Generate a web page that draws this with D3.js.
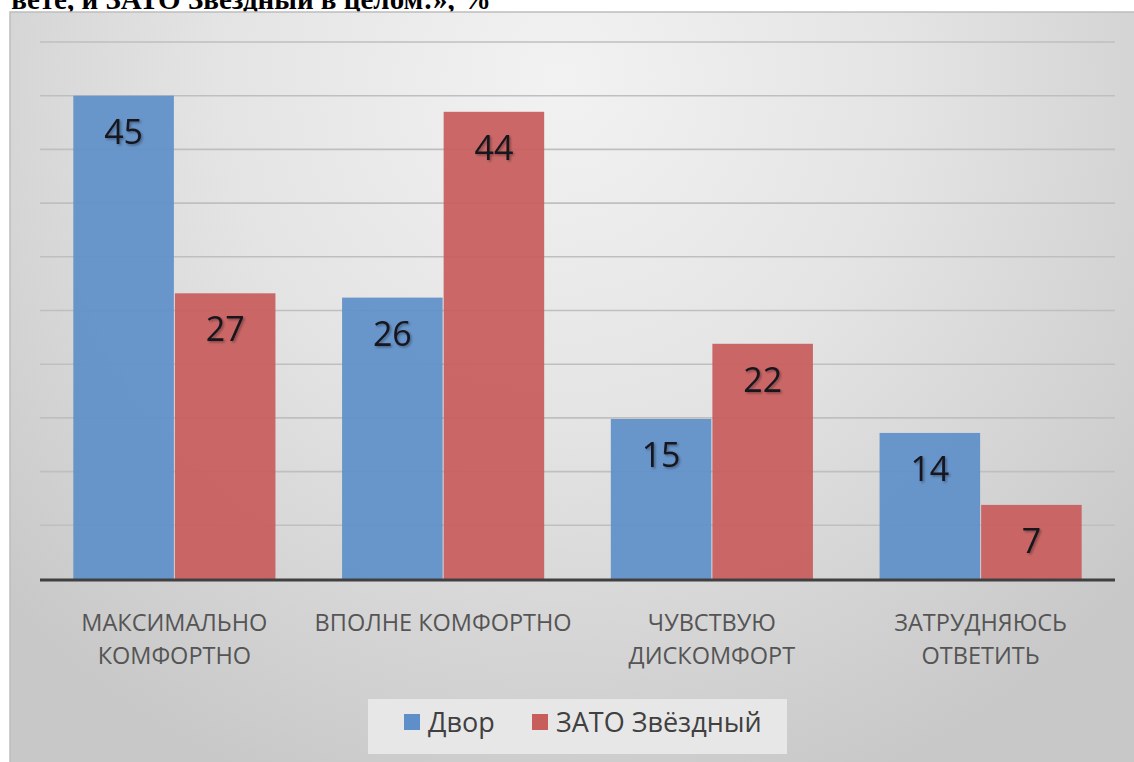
<!DOCTYPE html>
<html><head><meta charset="utf-8">
<script src="https://cdn.jsdelivr.net/npm/d3@7"></script>
<style>html,body{margin:0;padding:0;background:#fff;overflow:hidden}</style>
</head><body>
<svg id="c" width="1134" height="762"></svg>
<script>
const categories = [["МАКСИМАЛЬНО","КОМФОРТНО"],["ВПОЛНЕ КОМФОРТНО"],["ЧУВСТВУЮ","ДИСКОМФОРТ"],["ЗАТРУДНЯЮСЬ","ОТВЕТИТЬ"]];
const seriesNames = ["Двор","ЗАТО Звёздный"];
const dvor = [45.0, 26.2, 14.9, 13.6];
const zato = [26.6, 43.5, 21.9, 6.9];
const yTicks = [0,5,10,15,20,25,30,35,40,45,50];
const titleText = "вете, и ЗАТО Звёздный в целом:», %";
const colors = ["#5f8fc8","#c85e5c"];

const svg = d3.select("#c");
const defs = svg.append("defs");
const rg = defs.append("radialGradient").attr("id","bg").attr("gradientUnits","userSpaceOnUse")
  .attr("cx",560).attr("cy",80).attr("r",760);
rg.append("stop").attr("offset","0").attr("stop-color","#f2f2f2");
rg.append("stop").attr("offset","0.45").attr("stop-color","#e4e4e4");
rg.append("stop").attr("offset","1").attr("stop-color","#c8c8c8");
const sh = defs.append("filter").attr("id","sh").attr("x","-20%").attr("y","-20%").attr("width","140%").attr("height","140%");
sh.append("feDropShadow").attr("dx",1.5).attr("dy",1.5).attr("stdDeviation",1).attr("flood-color","#000").attr("flood-opacity",0.35);

// title (cut off at top, as in the reference)
svg.append("text").attr("x",491).attr("y",9).attr("text-anchor","end")
  .attr("font-family","Liberation Serif, Times New Roman, serif").attr("font-weight","bold")
  .attr("font-size",29).attr("fill","#000").text(titleText);

// chart area
svg.append("rect").attr("x",10).attr("y",12).attr("width",1140).attr("height",770)
  .attr("fill","url(#bg)").attr("stroke","#bdbdbd").attr("stroke-width",1.5);

const y = d3.scaleLinear().domain([0,50]).range([579,42]);
const x0 = d3.scaleBand().domain(d3.range(categories.length)).range([40,1115]).paddingInner(0.248).paddingOuter(0.124);
const x1 = d3.scaleBand().domain([0,1]).range([0,x0.bandwidth()]).paddingInner(0.01);

// gridlines
svg.append("g").selectAll("line").data(yTicks.filter(t=>t>0)).join("line")
  .attr("x1",40).attr("x2",1115).attr("y1",d=>y(d)).attr("y2",d=>y(d))
  .attr("stroke","#bfbfbf").attr("stroke-width",1.6);

const data = categories.map((c,i)=>[dvor[i],zato[i]]);
const g = svg.append("g");
data.forEach((vals,i)=>{
  vals.forEach((v,s)=>{
    const bx = x0(i)+x1(s);
    g.append("rect").attr("x",bx).attr("y",y(v)).attr("width",x1.bandwidth()).attr("height",y(0)-y(v))
      .attr("fill",colors[s]).attr("fill-opacity",0.93);
    g.append("text").attr("x",bx+x1.bandwidth()/2).attr("y",y(v)+48).attr("text-anchor","middle")
      .attr("font-family","Open Sans, sans-serif").attr("font-size",34).attr("fill","#14141e")
      .attr("filter","url(#sh)").text(Math.round(v));
  });
});

// baseline
svg.append("line").attr("x1",40).attr("x2",1115).attr("y1",y(0)+1).attr("y2",y(0)+1)
  .attr("stroke","#404040").attr("stroke-width",3);

// category labels
categories.forEach((lines,i)=>{
  const cx = x0(i)+x0.bandwidth()/2;
  lines.forEach((l,k)=>{
    svg.append("text").attr("x",cx).attr("y",631+k*33).attr("text-anchor","middle")
      .attr("font-family","Open Sans, sans-serif").attr("font-size",23.5).attr("fill","#555")
      .text(l);
  });
});

// legend
svg.append("rect").attr("x",368).attr("y",699).attr("width",419).attr("height",55).attr("fill","#e7e7e7");
const lg = [{x:404,tx:428},{x:532,tx:556}];
seriesNames.forEach((n,i)=>{
  svg.append("rect").attr("x",lg[i].x).attr("y",714).attr("width",16).attr("height",16).attr("fill",colors[i]);
  svg.append("text").attr("x",lg[i].tx).attr("y",732).attr("font-family","Open Sans, sans-serif")
    .attr("font-size",27).attr("fill","#404040").text(n);
});
</script>
</body></html>
